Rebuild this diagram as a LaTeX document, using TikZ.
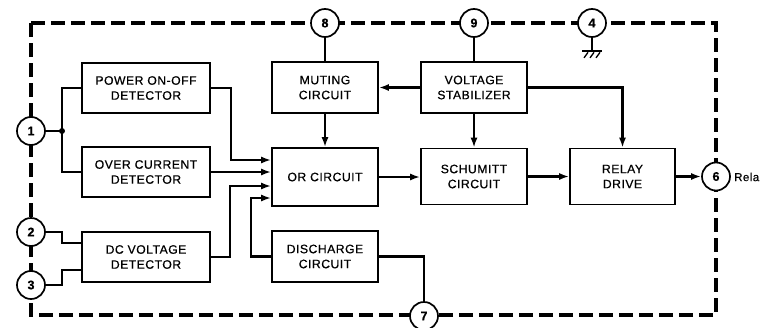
\documentclass[tikz,border=0pt]{standalone}
\usepackage{fontspec}
\setmainfont{Liberation Sans}[LetterSpace=4,FakeBold=0.6]
\usetikzlibrary{arrows.meta,calc}
\begin{document}
\begin{tikzpicture}[x=1pt,y=-1pt,
  box/.style={draw,line width=1.6pt,align=center,inner sep=0pt,font=\fontsize{12.2}{15}\selectfont},
  pin/.style={circle,draw,line width=1.7pt,fill=white,minimum size=28pt,inner sep=0pt,font=\fontsize{12.5}{14}\selectfont\bfseries},
  wire/.style={line width=2.1pt},
  arr/.style={wire,-{Latex[length=10pt,width=7pt]}},
  border/.style={line width=3.2pt,dash pattern=on 14pt off 6pt}
]
\useasboundingbox (0,0) rectangle (760,327);
% dashed outline
\draw[border] (31,23) -- (716,23) -- (716,315) -- (31,315) -- cycle;
% boxes
\node[box,minimum width=128pt,minimum height=50pt] (pw) at (146,88) {POWER ON-OFF\\DETECTOR};
\node[box,minimum width=128pt,minimum height=50pt] (oc) at (146,172) {OVER CURRENT\\DETECTOR};
\node[box,minimum width=128pt,minimum height=50pt] (dc) at (146,257) {DC VOLTAGE\\DETECTOR};
\node[box,minimum width=106pt,minimum height=51pt] (mu) at (325,87.5) {MUTING\\CIRCUIT};
\node[box,minimum width=106pt,minimum height=51pt] (vs) at (474,87.5) {VOLTAGE\\STABILIZER};
\node[box,minimum width=106pt,minimum height=58pt] (or) at (325,177) {OR CIRCUIT};
\node[box,minimum width=106pt,minimum height=56pt] (sc) at (474,176.5) {SCHUMITT\\CIRCUIT};
\node[box,minimum width=105pt,minimum height=56pt] (rd) at (622.5,176.5) {RELAY\\DRIVE};
\node[box,minimum width=106pt,minimum height=51pt] (di) at (325,256.5) {DISCHARGE\\CIRCUIT};
% pins
\node[pin] (p1) at (31,131) {1};
\node[pin] (p2) at (31,232) {2};
\node[pin] (p3) at (31,285) {3};
\node[pin] (p8) at (325,23) {8};
\node[pin] (p9) at (474,23) {9};
\node[pin] (p4) at (592,23) {4};
\node[pin] (p6) at (716,176.5) {6};
\node[pin] (p7) at (424,316) {7};
\node[anchor=west,inner sep=0pt,font=\fontsize{11.5}{13}\selectfont] (rl) at (734,177) {Rela};
% pin 1 junction
\coordinate (j) at (62,131);
\draw[wire] (p1.east) -- (j);
\draw[wire] (pw.west) -| (j) |- (oc.west);
\fill (j) circle (3pt);
% detectors to OR
\draw[arr] (pw.east) -- ++(20,0) |- ([yshift=17pt]or.west);
\draw[arr] (oc.east) -- (oc.east -| or.west);
\draw[arr] (dc.east) -- ++(19,0) |- ([yshift=-9pt]or.west);
\draw[arr] (di.west) -- ++(-20,0) |- ([yshift=-21pt]or.west);
% pins 2,3 to DC detector
\draw[wire] (p2.east) -- ++(16,0) |- ([yshift=14pt]dc.west);
\draw[wire] (p3.east) -- ++(16,0) |- ([yshift=-13pt]dc.west);
% discharge to pin 7
\draw[wire] (di.east) -| (p7.north);
% top pins
\draw[wire] (p8.south) -- (mu.north);
\draw[wire] (p9.south) -- (vs.north);
% stabilizer outputs
\draw[arr] (vs.west) -- (mu.east);
\draw[arr] (mu.south) -- (or.north);
\draw[arr] (vs.south) -- (sc.north);
\draw[arr] (vs.east) -| (rd.north);
% main chain
\draw[arr] (or.east) -- (or.east -| sc.west);
\draw[arr] (sc.east) -- (rd.west);
\draw[arr] (rd.east) -- (p6.west);
% ground at pin 4
\draw[wire] (p4.south) -- ++(0,13) coordinate (g);
\draw[line width=1.5pt] ([xshift=-10pt]g) -- ([xshift=10pt]g);
\draw[line width=1.3pt] ($(g)+(-4,1.5)$) -- ($(g)+(-8,7)$);
\draw[line width=1.3pt] ($(g)+(2,1.5)$) -- ($(g)+(-2,7)$);
\draw[line width=1.3pt] ($(g)+(8,1.5)$) -- ($(g)+(4,7)$);
\end{tikzpicture}
\end{document}
